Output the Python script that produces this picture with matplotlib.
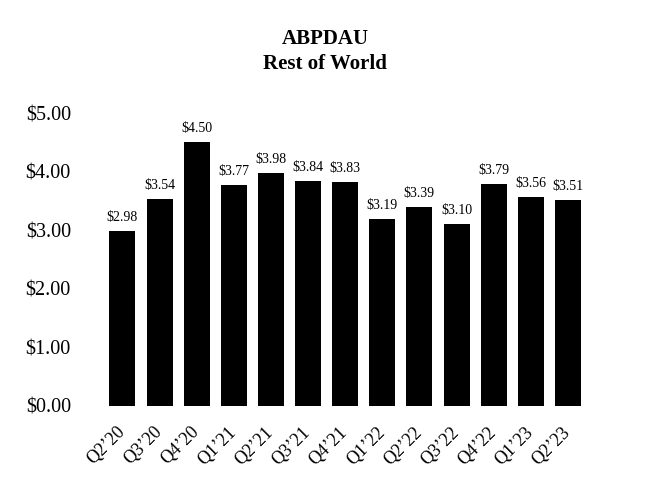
import matplotlib
matplotlib.use("Agg")
import matplotlib.pyplot as plt

categories = ["Q2\u201920", "Q3\u201920", "Q4\u201920", "Q1\u201921", "Q2\u201921", "Q3\u201921",
              "Q4\u201921", "Q1\u201922", "Q2\u201922", "Q3\u201922", "Q4\u201922", "Q1\u201923", "Q2\u201923"]
values = [2.98, 3.54, 4.50, 3.77, 3.98, 3.84, 3.83, 3.19, 3.39, 3.10, 3.79, 3.56, 3.51]
yticks = [0, 1, 2, 3, 4, 5]

plt.rcParams['font.family'] = ['Liberation Serif', 'DejaVu Serif']

fig = plt.figure(figsize=(6.5, 5), dpi=100)
ax = fig.add_axes([0.154, 0.188, 0.754, 0.586])
x = list(range(len(categories)))
ax.bar(x, values, width=0.7, color='black')
for xi, v in zip(x, values):
    ax.text(xi, v + 0.12, f"${v:.2f}", ha='center', va='bottom', fontsize=10, clip_on=False)
ax.set_xlim(-0.6, len(categories) - 0.4)
ax.set_ylim(0, 5)
ax.set_yticks(yticks)
ax.set_yticklabels([f"${t:.2f}" for t in yticks], fontsize=14.5)
ax.set_xticks(x)
ax.set_xticklabels(categories, rotation=45, ha='right', va='center', rotation_mode='anchor', fontsize=13)
ax.tick_params(axis='both', length=0)
ax.tick_params(axis='y', pad=21)
ax.tick_params(axis='x', pad=17)
for s in ax.spines.values():
    s.set_visible(False)
fig.text(0.5, 0.897, "ABPDAU\nRest of World", ha='center', va='center', fontsize=15,
         fontweight='bold', linespacing=1.3)
fig.savefig("out.png", dpi=100)
